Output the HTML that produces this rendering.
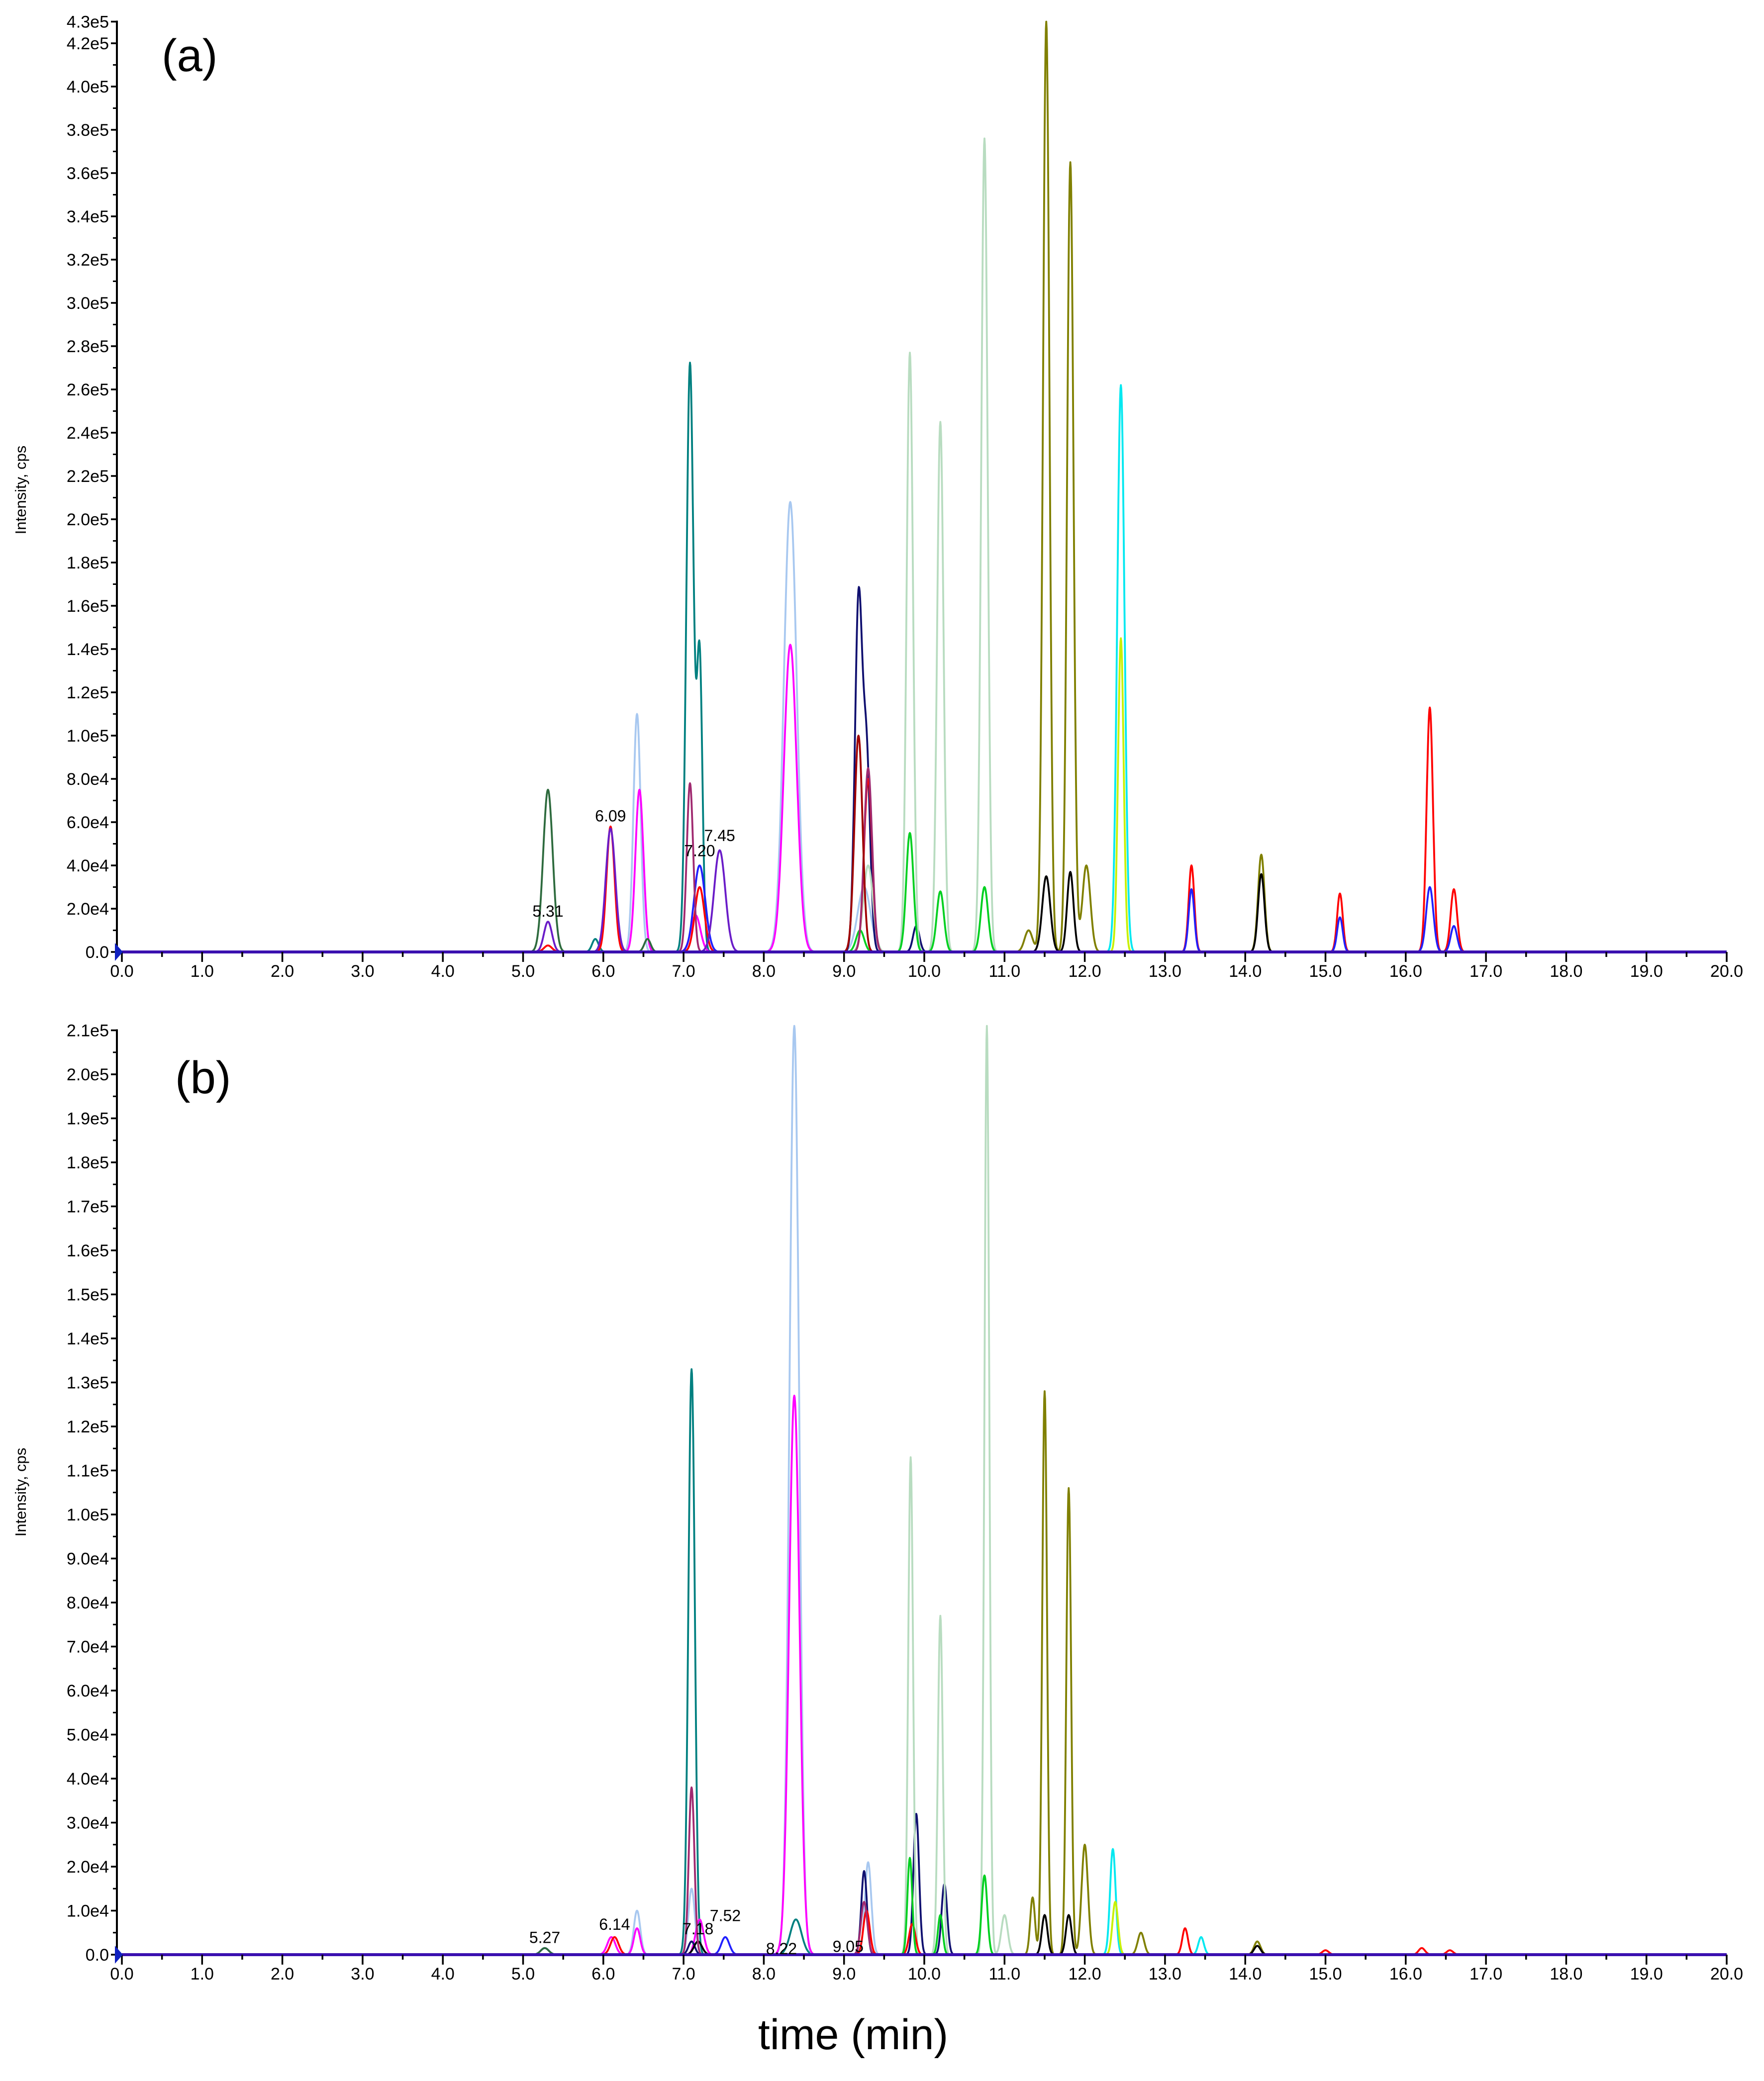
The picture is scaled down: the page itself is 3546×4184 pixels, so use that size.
<!DOCTYPE html>
<html><head><meta charset="utf-8"><style>
body{margin:0;background:#fff}
svg{display:block;font-family:"Liberation Sans",Arial,sans-serif}
</style></head><body>
<svg id="chart" width="3546" height="4184" viewBox="0 0 3546 4184">
<text x="325" y="143" font-size="92">(a)</text>
<text x="352" y="2198" font-size="92">(b)</text>
<text x="0" y="0" font-size="31" transform="translate(52,985) rotate(-90)" text-anchor="middle">Intensity, cps</text>
<text x="0" y="0" font-size="31" transform="translate(52,3000) rotate(-90)" text-anchor="middle">Intensity, cps</text>
<text x="1715" y="4120" font-size="86" text-anchor="middle">time (min)</text>
</svg>
<script>
const xTicks=[0,1,2,3,4,5,6,7,8,9,10,11,12,13,14,15,16,17,18,19,20];
const seriesColors=["#008080","#a8c8f0","#ff00ff","#101070","#b8dcc0","#808000","#00e8f0","#ff0000","#2020ff","#000000","#00d020","#2e6b3e","#a02a70","#c8f000","#a00000","#6a1cc8"];
// Panel A
const aSeries=[11,11,15,15,14,7,7,7,7,7,7,7,7,8,8,8,8,8,1,1,2,2,2,0,0,0,12,12,3,3,3,4,4,4,4,10,10,10,10,5,5,5,5,5,9,9,9,6,13,15,1];
const aTimes=[5.31,6.55,5.31,6.09,9.18,5.31,6.09,7.2,13.33,15.18,16.3,16.6,9.3,7.2,13.33,15.18,16.3,16.6,6.42,8.33,6.45,8.33,7.15,7.08,7.2,5.9,7.08,9.3,9.18,9.28,9.9,9.82,10.2,10.75,9.3,9.82,10.2,10.75,9.2,11.52,11.82,12.02,11.3,14.2,11.52,11.82,14.2,12.45,12.45,7.45,9.25];
const aHeights=[75000,6000,14000,57000,100000,3000,58000,30000,40000,27000,113000,29000,80000,40000,29000,16000,30000,12000,110000,208000,75000,142000,17000,272000,135000,6000,78000,85000,160000,90000,12000,277000,245000,376000,40000,55000,28000,30000,10000,430000,365000,40000,10000,45000,35000,37000,36000,262000,145000,47000,30000];
const aWidths=[0.06,0.04,0.05,0.06,0.05,0.05,0.05,0.06,0.035,0.035,0.04,0.04,0.05,0.07,0.035,0.035,0.045,0.04,0.045,0.08,0.05,0.08,0.06,0.045,0.035,0.04,0.04,0.05,0.045,0.045,0.04,0.04,0.04,0.04,0.06,0.045,0.045,0.045,0.05,0.04,0.04,0.05,0.05,0.04,0.05,0.04,0.04,0.045,0.035,0.07,0.08];
const aYTicks=[0,20000,40000,60000,80000,100000,120000,140000,160000,180000,200000,220000,240000,260000,280000,300000,320000,340000,360000,380000,400000,420000];
const aYLabels=["0.0","2.0e4","4.0e4","6.0e4","8.0e4","1.0e5","1.2e5","1.4e5","1.6e5","1.8e5","2.0e5","2.2e5","2.4e5","2.6e5","2.8e5","3.0e5","3.2e5","3.4e5","3.6e5","3.8e5","4.0e5","4.2e5"];
const aAnnT=[5.31,6.09,7.20,7.45];
const aAnnV=[14000,58000,42000,49000];
// Panel B
const bSeries=[0,0,1,1,1,1,2,2,2,2,4,4,4,4,5,5,5,5,5,5,12,12,3,3,3,3,10,10,10,6,6,13,7,7,7,7,7,7,7,9,9,9,9,8,8,11];
const bTimes=[7.1,8.4,8.38,6.42,7.1,9.3,8.38,7.2,6.42,6.1,9.83,10.2,10.78,11.0,11.5,11.8,12.0,11.35,12.7,14.15,7.1,9.25,9.9,10.25,9.25,7.1,9.82,10.2,10.75,12.35,13.45,12.38,13.25,6.14,9.28,9.85,16.2,15.0,16.55,11.5,11.8,14.15,7.18,7.52,5.27,5.27];
const bHeights=[133000,8000,211000,10000,15000,21000,127000,8000,6000,4000,113000,77000,211000,9000,128000,106000,25000,13000,5000,3000,38000,12000,32000,16000,19000,3000,22000,9000,18000,24000,4000,12000,6000,4000,10000,7000,1500,1000,1000,9000,9000,2000,3000,4000,1500,1500];
const bWidths=[0.04,0.07,0.06,0.04,0.04,0.04,0.065,0.05,0.04,0.05,0.03,0.03,0.03,0.04,0.03,0.03,0.04,0.03,0.04,0.04,0.035,0.04,0.035,0.035,0.035,0.04,0.03,0.03,0.035,0.035,0.035,0.035,0.035,0.05,0.04,0.04,0.04,0.04,0.04,0.035,0.035,0.04,0.05,0.05,0.05,0.05];
const bYTicks=[0,10000,20000,30000,40000,50000,60000,70000,80000,90000,100000,110000,120000,130000,140000,150000,160000,170000,180000,190000,200000,210000];
const bYLabels=["0.0","1.0e4","2.0e4","3.0e4","4.0e4","5.0e4","6.0e4","7.0e4","8.0e4","9.0e4","1.0e5","1.1e5","1.2e5","1.3e5","1.4e5","1.5e5","1.6e5","1.7e5","1.8e5","1.9e5","2.0e5","2.1e5"];
const bAnnT=[5.27,6.14,7.18,7.52,8.22,9.05];
const bAnnV=[1500,4500,3500,6500,-1000,-500];

const NS="http://www.w3.org/2000/svg";
const svg=document.getElementById('chart');
function mk(tag,attrs,parent){const e=document.createElementNS(NS,tag);for(const k in attrs)e.setAttribute(k,attrs[k]);(parent||svg).appendChild(e);return e;}

function panel(id,yZero,pxPer1e4,yMax,minorStep,yTicks,yLabels,series,times,heights,widths,annT,annV,xLabelY){
  const x0=245,x1=3471;
  const sx=t=>x0+(x1-x0)*t/20;
  const sy=v=>yZero-v/10000*pxPer1e4;
  const g=mk('g',{});
  
  
  for(let s=0;s<seriesColors.length;s++){
    const idx=[];for(let i=0;i<series.length;i++)if(series[i]===s)idx.push(i);
    if(!idx.length)continue;
    let d='';
    for(let k=0;k<=4000;k++){
      const t=k*0.005;let v=0;
      for(const i of idx){const z=(t-times[i])/widths[i];if(Math.abs(z)<6)v+=heights[i]*Math.exp(-0.5*z*z);}
      d+=(k?'L':'M')+sx(t).toFixed(1)+' '+sy(v).toFixed(1);
    }
    const p=mk('path',{d:d,fill:'none',stroke:seriesColors[s],'stroke-width':3.8,'stroke-linejoin':'round'},g);
    
    
  }
  const bl=mk('line',{x1:x0,x2:x1,y1:yZero,y2:yZero,stroke:'#3a10b0','stroke-width':6},g);
  
  
  const ya=mk('line',{x1:x0-10,x2:x0-10,y1:sy(yMax)-2,y2:yZero+4,stroke:'#000','stroke-width':4},g);
  
  
  for(let v=0;v<=yMax+1;v+=minorStep){
    mk('line',{x1:x0-18,x2:x0-10,y1:sy(v),y2:sy(v),stroke:'#000','stroke-width':3},g);
  }
  for(let i=0;i<yTicks.length;i++){
    mk('line',{x1:x0-22,x2:x0-10,y1:sy(yTicks[i]),y2:sy(yTicks[i]),stroke:'#000','stroke-width':3.5},g);
    const t=mk('text',{x:x0-26,y:sy(yTicks[i])+12,'font-size':34,'text-anchor':'end'},g);
    t.textContent=yLabels[i];
    
    
  }
  if(id==='a'){const t=mk('text',{x:x0-26,y:sy(430000)+12,'font-size':34,'text-anchor':'end'},g);t.textContent='4.3e5';
    
    
    mk('line',{x1:x0-22,x2:x0-10,y1:sy(430000),y2:sy(430000),stroke:'#000','stroke-width':3.5},g);}
  for(let m=0;m<=40;m++){
    const x=sx(m*0.5);
    mk('line',{x1:x,x2:x,y1:yZero,y2:yZero+(m%2?10:20),stroke:'#000','stroke-width':3.5},g);
  }
  for(const t of xTicks){
    const e=mk('text',{x:sx(t),y:xLabelY,'font-size':34,'text-anchor':'middle'},g);
    e.textContent=t.toFixed(1);
    
    
  }
  const mkr=mk('path',{d:`M${x0-14} ${yZero-18} L${x0+2} ${yZero} L${x0-14} ${yZero+18}Z`,fill:'#1020c0'},g);
  
  
  for(let i=0;i<annT.length;i++){
    const e=mk('text',{x:sx(annT[i]),y:sy(annV[i])-10,'font-size':32,'text-anchor':'middle'},g);
    e.textContent=annT[i].toFixed(2);
    
    
  }
}
panel('a',1914,43.5,430000,10000,aYTicks,aYLabels,aSeries,aTimes,aHeights,aWidths,aAnnT,aAnnV,1964);
panel('b',3930,88.5,210000,5000,bYTicks,bYLabels,bSeries,bTimes,bHeights,bWidths,bAnnT,bAnnV,3980);
</script>
</body></html>
